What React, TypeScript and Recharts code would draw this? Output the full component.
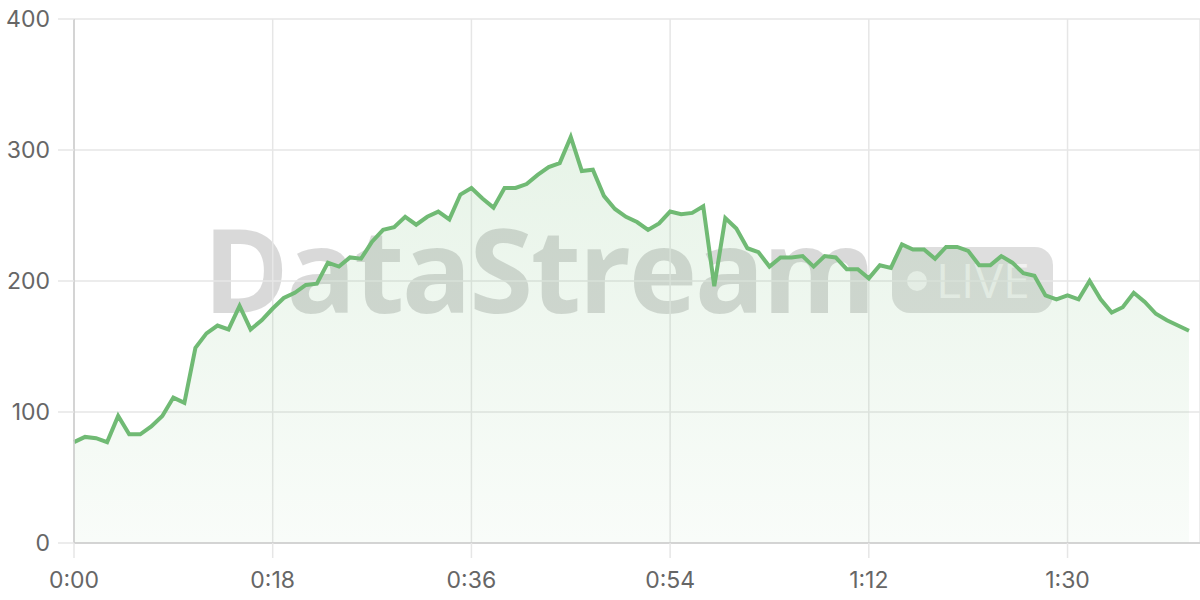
import React from "react";
import {
  AreaChart,
  Area,
  XAxis,
  YAxis,
  CartesianGrid,
} from "recharts";

// one reading per second
const values = [
  77, 81, 80, 77, 97, 83, 83, 89, 97, 111,
  107, 149, 160, 166, 163, 181, 163, 170, 179, 187,
  191, 197, 198, 214, 211, 218, 217, 230, 239, 241,
  249, 243, 249, 253, 247, 266, 271, 263, 256, 271,
  271, 274, 281, 287, 290, 310, 284, 285, 265, 255,
  249, 245, 239, 244, 253, 251, 252, 257, 196, 248,
  240, 225, 222, 211, 218, 218, 219, 211, 219, 218,
  209, 209, 202, 212, 210, 228, 224, 224, 217, 226,
  226, 223, 212, 212, 219, 214, 206, 204, 189, 186,
  189, 186, 200, 186, 176, 180, 191, 184, 175, 170,
  166, 162,
];

const xTicks = [0, 18, 36, 54, 72, 90];
const xTickLabels = ["0:00", "0:18", "0:36", "0:54", "1:12", "1:30"];
const yTicks = [0, 100, 200, 300, 400];

const data = values.map((v, i) => ({ t: i, v }));

const W = 1200;
const H = 600;
const LINE = "#70ba74";
const GRID = "#e6e6e6";
const AXIS = "#cccccc";
const FONT = "Inter, 'Noto Sans', sans-serif";

function Watermark() {
  return (
    <svg
      width={W}
      height={H}
      style={{ position: "absolute", left: 0, top: 0, zIndex: 0 }}
    >
      <text
        x={203}
        y={313}
        fontFamily="'Open Sans', sans-serif"
        fontWeight={700}
        fontSize={116}
        letterSpacing={-2.5}
        fill="rgba(0,0,0,0.15)"
      >
        DataStream
      </text>
      <rect x={892} y={247} width={161} height={66} rx={18} fill="rgba(0,0,0,0.13)" />
      <circle cx={917} cy={281} r={10} fill="rgba(255,255,255,0.65)" />
      <text
        x={936}
        y={298}
        fontFamily="'Open Sans', sans-serif"
        fontWeight={400}
        fontSize={48}
        fill="rgba(255,255,255,0.6)"
      >
        LIVE
      </text>
    </svg>
  );
}

export default function App() {
  return (
    <div
      style={{
        position: "absolute",
        left: 0,
        top: 0,
        width: W,
        height: H,
        background: "#fff",
      }}
    >
      <Watermark />
      <div style={{ position: "absolute", left: 0, top: 0, zIndex: 1 }}>
        <AreaChart
          width={W}
          height={H}
          data={data}
          margin={{ top: 19, right: 0, bottom: 0, left: 0 }}
        >
          <defs>
            <linearGradient id="fillGreen" x1="0" y1="0" x2="0" y2="1">
              <stop offset="0%" stopColor={LINE} stopOpacity={0.28} />
              <stop offset="100%" stopColor={LINE} stopOpacity={0.07} />
            </linearGradient>
          </defs>
          <CartesianGrid stroke={GRID} strokeWidth={1.5} />
          <XAxis
            dataKey="t"
            type="number"
            domain={[0, 102]}
            ticks={xTicks}
            tickFormatter={(v: number) => xTickLabels[xTicks.indexOf(v)] ?? ""}
            height={57}
            tickSize={15}
            tickMargin={14}
            tickLine={{ stroke: GRID, strokeWidth: 1.5 }}
            axisLine={{ stroke: AXIS, strokeWidth: 1.5 }}
            tick={{ fill: "#666", fontSize: 23, fontFamily: FONT }}
            interval={0}
          />
          <YAxis
            domain={[0, 400]}
            ticks={yTicks}
            width={74}
            tickSize={16}
            tickMargin={8}
            tickLine={{ stroke: GRID, strokeWidth: 1.5 }}
            axisLine={{ stroke: AXIS, strokeWidth: 1.5 }}
            tick={{ fill: "#666", fontSize: 23, fontFamily: FONT }}
            interval={0}
          />
          <Area
            type="linear"
            dataKey="v"
            stroke={LINE}
            strokeWidth={4}
            strokeLinejoin="miter"
            fill="url(#fillGreen)"
            dot={false}
            activeDot={false}
            isAnimationActive={false}
          />
        </AreaChart>
      </div>
    </div>
  );
}
